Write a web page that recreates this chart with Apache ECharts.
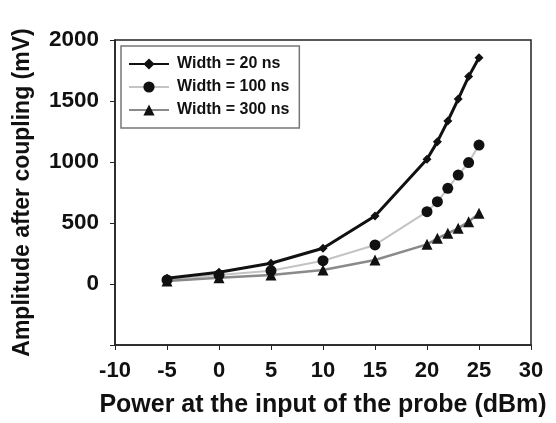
<!DOCTYPE html>
<html>
<head>
<meta charset="utf-8">
<script src="https://cdn.jsdelivr.net/npm/echarts@6/dist/echarts.min.js"></script>
<style>
html,body{margin:0;padding:0;background:#fff;}
#chart{width:556px;height:423px;}
</style>
</head>
<body>
<div id="chart"></div>
<script>
const powerDbm = [-5, 0, 5, 10, 15, 20, 21, 22, 23, 24, 25];
const width20ns = [47, 96, 170, 293, 557, 1022, 1167, 1336, 1516, 1700, 1855];
const width100ns = [33, 74, 109, 191, 320, 593, 675, 784, 893, 995, 1139];
const width300ns = [25, 52, 74, 115, 197, 325, 374, 415, 456, 511, 579];
const seriesNames = ['Width = 20 ns', 'Width = 100 ns', 'Width = 300 ns'];
const xTitle = 'Power at the input of the probe (dBm)';
const yTitle = 'Amplitude after coupling (mV)';

function pairs(ys){ return powerDbm.map((x,i)=>[x, ys[i]]); }

const font = 'Liberation Sans, Arial, sans-serif';
const chart = echarts.init(document.getElementById('chart'), null, {renderer:'canvas'});
chart.setOption({
  animation:false,
  backgroundColor:'#fff',
  grid:{left:115, top:40, right:25, bottom:78, containLabel:false, outerBoundsMode:'none',
        show:true, borderColor:'#222', borderWidth:1.5, backgroundColor:'transparent'},
  legend:{
    left:121, top:46, orient:'vertical',
    itemWidth:40, itemHeight:14, itemGap:7,
    padding:[10,10,10,7],
    borderColor:'#777', borderWidth:1.5,
    data:seriesNames,
    textStyle:{fontFamily:font, fontWeight:'bold', fontSize:16, color:'#111', padding:[0,0,0,3]}
  },
  xAxis:{
    type:'value', min:-10, max:30, interval:5,
    name:xTitle, nameLocation:'middle', nameGap:48,
    nameTextStyle:{fontFamily:font, fontWeight:'bold', fontSize:25, color:'#111'},
    axisLine:{show:true, onZero:false, lineStyle:{color:'#222', width:1.5}},
    axisTick:{show:true, inside:false, length:5, lineStyle:{color:'#222'}},
    axisLabel:{fontFamily:font, fontWeight:'bold', fontSize:22, color:'#111', margin:15},
    splitLine:{show:false}
  },
  yAxis:{
    type:'value', min:-500, max:2000, interval:500,
    name:yTitle, nameLocation:'middle', nameGap:81,
    nameTextStyle:{fontFamily:font, fontWeight:'bold', fontSize:23, color:'#111'},
    axisLine:{show:true, onZero:false, lineStyle:{color:'#222', width:1.5}},
    axisTick:{show:true, inside:false, length:5, lineStyle:{color:'#222'}},
    axisLabel:{fontFamily:font, fontWeight:'bold', fontSize:22.5, color:'#111', margin:16,
      formatter:v => v < 0 ? '' : String(v)},
    splitLine:{show:false}
  },
  series:[
    {name:seriesNames[0], type:'line', data:pairs(width20ns), symbol:'diamond', symbolSize:9,
     lineStyle:{color:'#111', width:3}, itemStyle:{color:'#111'}, z:3},
    {name:seriesNames[1], type:'line', data:pairs(width100ns), symbol:'circle', symbolSize:11,
     lineStyle:{color:'#c4c4c4', width:2}, itemStyle:{color:'#111'}, z:2},
    {name:seriesNames[2], type:'line', data:pairs(width300ns), symbol:'triangle', symbolSize:11,
     lineStyle:{color:'#8a8a8a', width:2.5}, itemStyle:{color:'#111'}, z:2}
  ]
});
</script>
</body>
</html>
